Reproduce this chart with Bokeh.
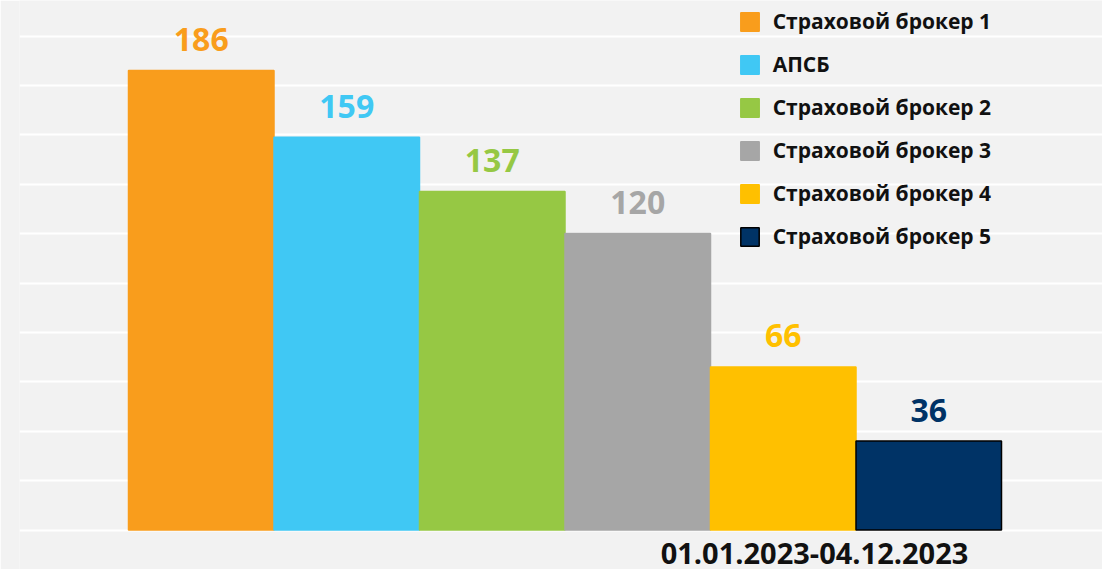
from bokeh.plotting import figure
from bokeh.models import ColumnDataSource, Range1d, FixedTicker, Legend, LegendItem, Label
from bokeh.core.properties import value
from bokeh.embed import file_html
from bokeh.resources import INLINE

# ---- data ----
categories = ["Страховой брокер 1", "АПСБ", "Страховой брокер 2",
              "Страховой брокер 3", "Страховой брокер 4", "Страховой брокер 5"]
values = [186, 159, 137, 120, 66, 36]
bar_colors = ["#F99D1C", "#40C8F4", "#96C844", "#A6A6A6", "#FFC000", "#003366"]
line_colors = ["#F99D1C", "#40C8F4", "#96C844", "#A6A6A6", "#FFC000", "#000000"]
period_label = "01.01.2023-04.12.2023"
grid_ticks = [0, 20, 40, 60, 80, 100, 120, 140, 160, 180, 200]

FONT = "Open Sans"
BG = "#F2F2F2"

W, H = 1102, 569
px_per_unit_x = 145.5
frame_left = 19
bar0_left = 109
xmin = -0.5 - bar0_left / px_per_unit_x
xmax = xmin + (W - frame_left) / px_per_unit_x

px_per_unit_y = 2.47
baseline = 529.5
ymax = baseline / px_per_unit_y
ymin = -(H - baseline) / px_per_unit_y

src = ColumnDataSource(dict(
    x=list(range(len(categories))),
    top=values,
    name=categories,
    fill=bar_colors,
    line=line_colors,
    label=[str(v) for v in values],
))

p = figure(width=W, height=H, output_backend="svg", toolbar_location=None,
           x_range=Range1d(xmin, xmax), y_range=Range1d(ymin, ymax),
           min_border_left=frame_left, min_border_right=0,
           min_border_top=0, min_border_bottom=0)
p.background_fill_color = BG
p.border_fill_color = BG
p.outline_line_color = None
p.xaxis.visible = False
p.yaxis.visible = False
p.xgrid.visible = False
p.yaxis.ticker = FixedTicker(ticks=grid_ticks)
p.ygrid.ticker = FixedTicker(ticks=grid_ticks)
p.ygrid.grid_line_color = "white"
p.ygrid.grid_line_width = 2

bars = p.vbar(x="x", top="top", bottom=0, width=1.0, source=src,
              fill_color="fill", line_color="line", line_width=1.5)

p.text(x="x", y="top", text="label", source=src, text_color="fill",
       text_align="center", text_baseline="alphabetic", y_offset=-31,
       text_font=value(FONT), text_font_style="bold", text_font_size="32px")

items = [LegendItem(label=c, renderers=[bars], index=i) for i, c in enumerate(categories)]
n = len(items)
item_h = 28
spacing = 15
glyph = 23
legend_h = n * item_h + (n - 1) * spacing
legend = Legend(items=items, location=(740 - 2.3 - frame_left, H - 7 - legend_h),
                glyph_width=glyph, glyph_height=glyph, label_height=item_h,
                spacing=spacing, padding=0, margin=0, label_standoff=12,
                label_text_font=FONT, label_text_font_style="bold",
                label_text_font_size="21px", label_text_color="#111111",
                border_line_color=None, background_fill_alpha=0)
p.add_layout(legend, "center")

p.add_layout(Label(x=795, y=16, x_units="screen", y_units="screen", text=period_label,
                   text_align="center", text_baseline="alphabetic",
                   text_font=FONT, text_font_style="bold", text_font_size="29px",
                   text_color="#111111"))

open("out.html", "w").write(file_html(p, INLINE))
